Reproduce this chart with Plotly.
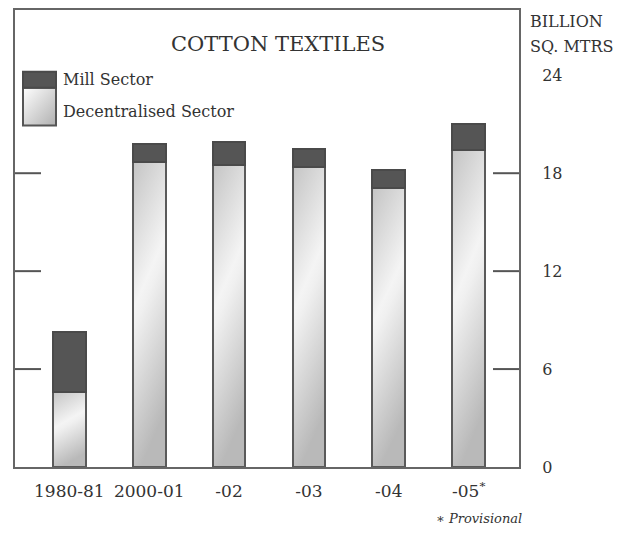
import base64
import plotly.graph_objects as go

# ---- data ----
categories = ["1980-81", "2000-01", "2001-02", "2002-03", "2003-04", "2004-05"]
tick_labels = ["1980-81", "2000-01", "-02", "-03", "-04", "-05<sup>*</sup>"]
decentralised = [4.6, 18.7, 18.5, 18.4, 17.1, 19.4]
mill = [3.7, 1.1, 1.4, 1.1, 1.1, 1.6]
y_ticks = [0, 6, 12, 18, 24]
y_tick_labels = ["0", "6", "12", "18", "24"]
tick_marks = [6, 12, 18]

OFF = 8  # default page body margin
W, H = 613, 520
L, R, T, B = 7, 102, 0, 61
PW, PH = W - L - R, H - T - B
SERIF = "DejaVu Serif, Liberation Serif, serif"
TXT = "#333333"
BAR_W = 0.41


def px(x):
    return (x - OFF - L) / PW


def py(y):
    return (H - B - (y - OFF)) / PH


def svg_uri(x2, y2, stops):
    st = "".join(f'<stop offset="{o}" stop-color="{c}"/>' for o, c in stops)
    svg = ('<svg xmlns="http://www.w3.org/2000/svg" width="20" height="100" viewBox="0 0 20 100" '
           'preserveAspectRatio="none"><defs><linearGradient id="g" x1="0" y1="0" '
           f'x2="{x2}" y2="{y2}">{st}</linearGradient></defs>'
           '<rect width="20" height="100" fill="url(#g)"/></svg>')
    return "data:image/svg+xml;base64," + base64.b64encode(svg.encode()).decode()


bar_grad = svg_uri(0.25, 1, [(0, "#c4c4c4"), (0.46, "#f4f4f4"), (0.52, "#f0f0f0"), (1, "#b9b9b9")])
leg_grad = svg_uri(1, 1, [(0, "#ffffff"), (1, "#b0b0b0")])

fig = go.Figure()
fig.add_trace(go.Bar(
    x=categories, y=decentralised, name="Decentralised Sector", width=BAR_W,
    marker=dict(color="rgba(0,0,0,0)", line=dict(color="#5a5a5a", width=2)),
    showlegend=False,
))
fig.add_trace(go.Bar(
    x=categories, y=mill, name="Mill Sector", width=BAR_W,
    marker=dict(color="#555555", line=dict(color="#4a4a4a", width=2)),
    showlegend=False,
))

images = []
for i, v in enumerate(decentralised):
    images.append(dict(source=bar_grad, xref="x", yref="y", x=i, y=v, sizex=BAR_W, sizey=v,
                       xanchor="center", yanchor="top", sizing="stretch", layer="below"))
images.append(dict(source=leg_grad, xref="paper", yref="paper", x=px(23), y=py(86),
                   sizex=px(56) - px(23), sizey=py(86) - py(124),
                   xanchor="left", yanchor="top", sizing="stretch", layer="below"))

shapes = []
tl = 26 / PW
for v in tick_marks:
    shapes.append(dict(type="line", xref="paper", yref="y", x0=0, x1=tl, y0=v, y1=v,
                       line=dict(color="#555555", width=2)))
    shapes.append(dict(type="line", xref="paper", yref="y", x0=1 - tl, x1=1, y0=v, y1=v,
                       line=dict(color="#555555", width=2)))

# legend symbol outline
shapes.append(dict(type="rect", xref="paper", yref="paper", x0=px(23), x1=px(56), y0=py(124), y1=py(86),
                   fillcolor="rgba(0,0,0,0)", line=dict(color="#555555", width=2)))
shapes.append(dict(type="rect", xref="paper", yref="paper", x0=px(23), x1=px(56), y0=py(86), y1=py(70),
                   fillcolor="#555555", line=dict(color="#4a4a4a", width=2)))


def ann(text, x, y, size, xanchor="left"):
    return dict(text=text, x=px(x), y=py(y), xref="paper", yref="paper",
                xanchor=xanchor, yanchor="middle", showarrow=False,
                font=dict(family=SERIF, size=size, color=TXT))


annotations = [
    ann("COTTON TEXTILES", 278, 42, 21, xanchor="center"),
    ann("Mill Sector", 61, 78, 16),
    ann("Decentralised Sector", 61, 110, 16),
    ann("BILLION", 528, 20, 16),
    ann("SQ. MTRS", 528, 45, 16),
    ann("∗ <i>Provisional</i>", 524, 519, 13, xanchor="right"),
]

fig.update_layout(
    width=W, height=H,
    margin=dict(l=L, r=R, t=T, b=B, pad=0),
    barmode="stack",
    plot_bgcolor="white", paper_bgcolor="white",
    shapes=shapes, annotations=annotations, images=images,
    font=dict(family=SERIF, size=15, color=TXT),
    xaxis=dict(type="category", range=[-0.68, 5.63], tickvals=categories, ticktext=tick_labels,
               showline=True, mirror=True, linecolor="#666666", linewidth=2, ticks="",
               showgrid=False, zeroline=False, ticklabelstandoff=8,
               tickfont=dict(family=SERIF, size=17, color=TXT)),
    yaxis=dict(side="right", range=[0, 28], tickvals=y_ticks, ticktext=y_tick_labels,
               showline=True, mirror=True, linecolor="#666666", linewidth=2, ticks="",
               showgrid=False, zeroline=False, ticklabelstandoff=18,
               tickfont=dict(family=SERIF, size=16, color=TXT)),
)

fig.write_html("out.html")
